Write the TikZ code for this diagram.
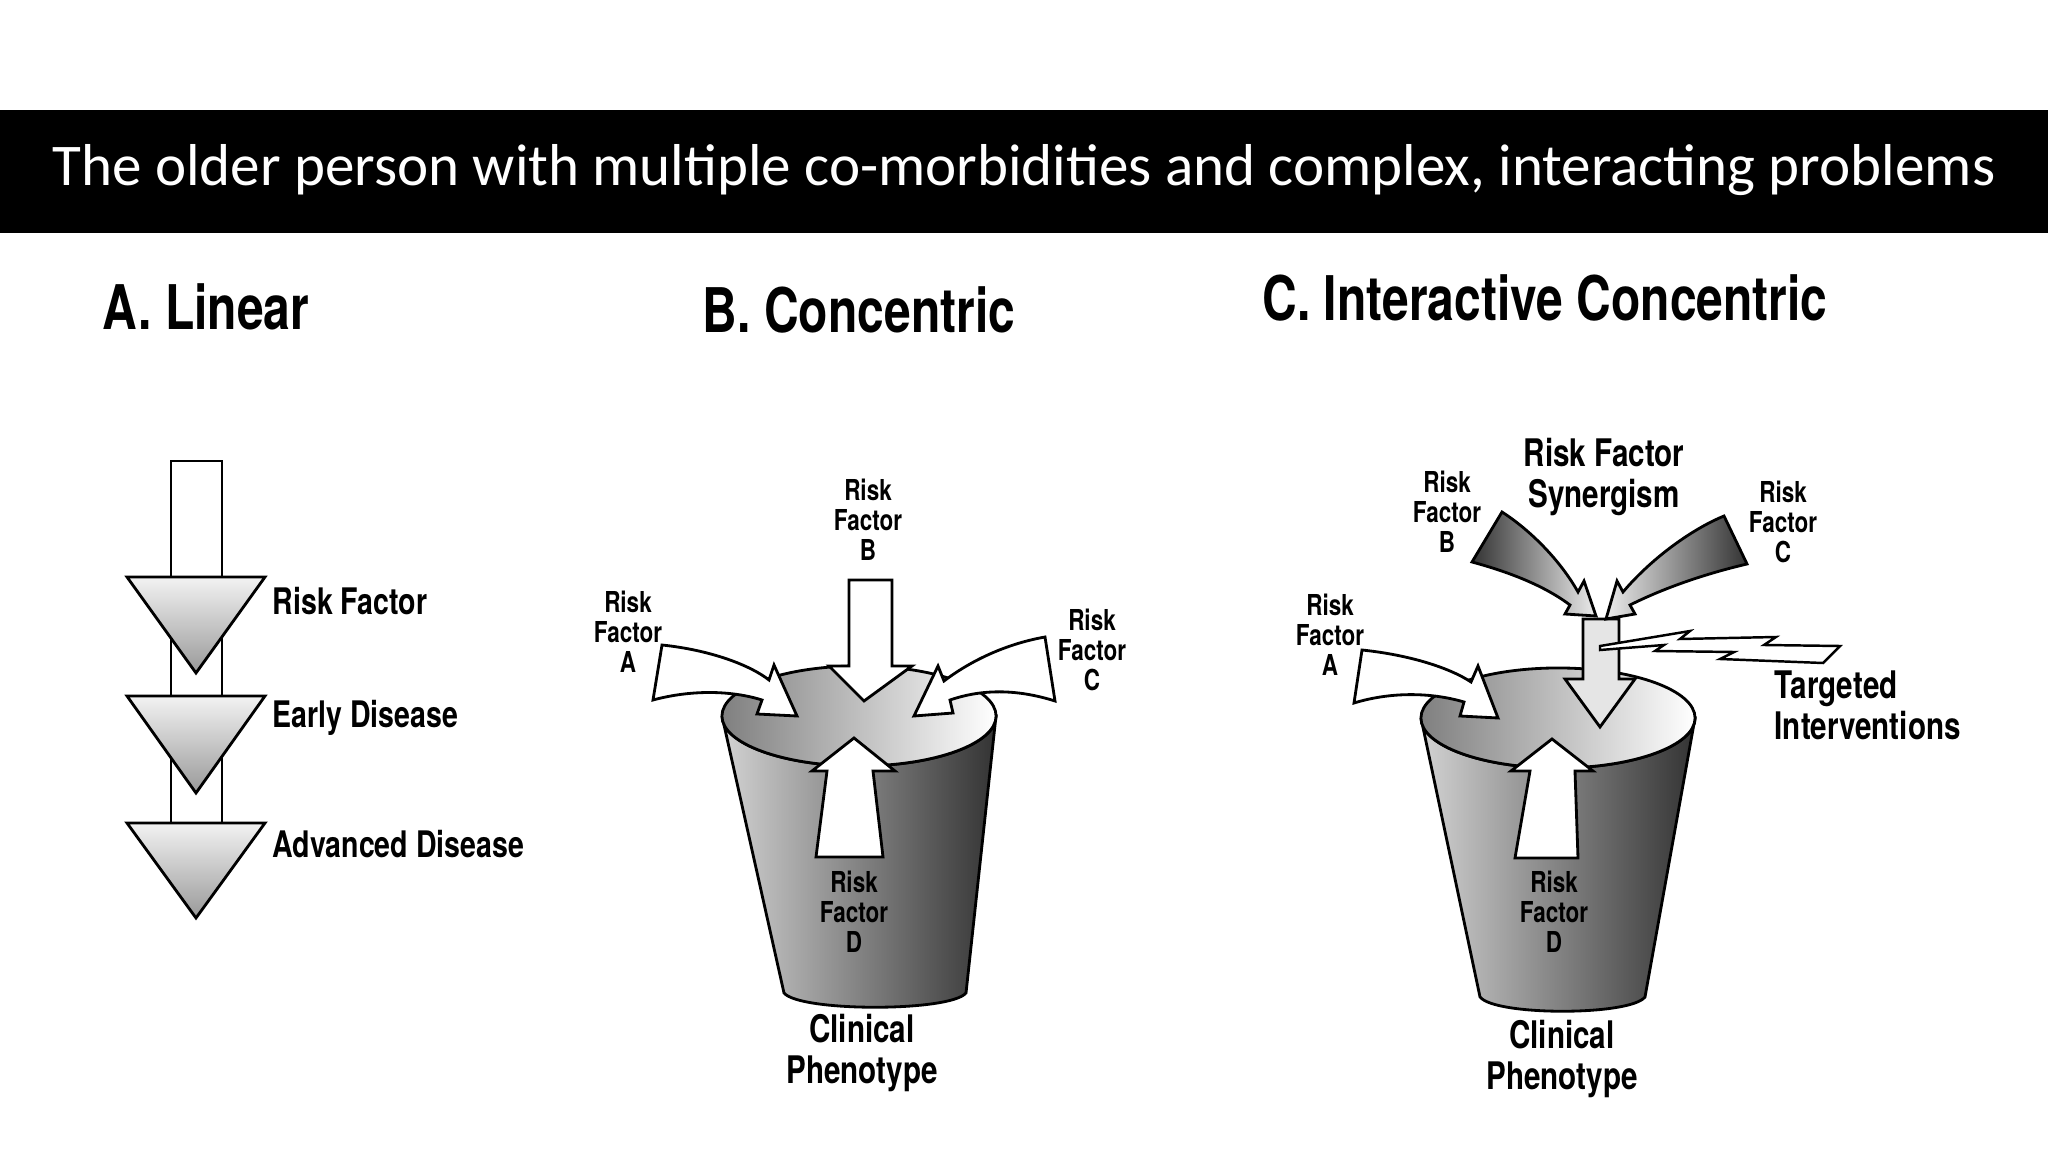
\documentclass[tikz,border=0pt]{standalone}
\usepackage{fontspec}
\setmainfont{Carlito}
\newfontfamily\cond[FakeStretch=0.78]{TeX Gyre Heros}
\begin{document}
\begin{tikzpicture}[x=0.01cm,y=-0.01cm,
  ol/.style={draw=black,line width=0.8pt,line join=miter},
  wa/.style={ol,fill=white},
  lbl/.style={font=\cond\bfseries\fontsize{8.2}{8.6}\selectfont,align=center,inner sep=0pt},
  big/.style={font=\cond\bfseries\fontsize{10.8}{11.6}\selectfont,align=center,inner sep=0pt},
  alb/.style={font=\cond\bfseries\fontsize{10.4}{12}\selectfont,anchor=west,inner sep=0pt},
  head/.style={font=\cond\bfseries\fontsize{17.5}{19}\selectfont,inner sep=0pt},
  ahead/.style={ol,top color=gray!10,bottom color=gray!80},
  cupbody/.style={ol,left color=gray!35,middle color=white,right color=black!80},
  cuprim/.style={ol,left color=black!50,middle color=gray!5,right color=white}]
\useasboundingbox (0,0) rectangle (2048,1152);
\fill[white] (0,0) rectangle (2048,1152);
% banner
\fill[black] (0,110) rectangle (2048,233);
\node[text=white,font=\fontsize{16.8}{19}\selectfont] (title) at (1024,170) {The older person with multiple co-morbidities and complex, interacting problems};
% headings
\node[head] (hA) at (206,307) {A. Linear};
\node[head] (hB) at (859,310) {B. Concentric};
\node[head] (hC) at (1545,298) {C. Interactive Concentric};
% ---------- Panel A
\draw[wa] (171,461) rectangle (222,823);
\path[ahead] (127,577) -- (265,577) -- (196,673) -- cycle;
\path[ahead] (127,696) -- (265,696) -- (196,793) -- cycle;
\path[ahead] (127,823) -- (265,823) -- (196,918) -- cycle;
\node[alb] (la1) at (272,601) {Risk Factor};
\node[alb] (la2) at (272,718) {Early Disease};
\node[alb] (la3) at (272,844) {Advanced Disease};
% ---------- Panel B cup
\shade[cupbody]
  (996,716) -- (966,993) .. controls (950,1012) and (800,1012) .. (784,993) -- (722,716)
  arc[start angle=180,end angle=360,x radius=1.37cm,y radius=0.5cm] -- cycle;
\shade[cuprim] (859,716) ellipse[x radius=1.37cm,y radius=0.5cm];
\path[wa] (816,857) -- (883,857) -- (873,771) -- (895,771) -- (854,738) -- (812,771) -- (827,771) -- cycle;
\path[wa] (662,645) .. controls (710,650) and (750,665) .. (769,680) -- (774,665) -- (797,716) -- (757,714) -- (762,700) .. controls (730,690) and (690,690) .. (653,700) -- cycle;
\path[wa] (1045,637) .. controls (1000,645) and (965,665) .. (944,681) -- (938,666) -- (914,716) -- (953,713) -- (950,700) .. controls (985,688) and (1020,690) .. (1055,701) -- cycle;
\path[wa] (849,580) -- (892,580) -- (892,666) -- (912,666) -- (864,701) -- (829,666) -- (849,666) -- cycle;
\node[lbl] (bA) at (628,632) {Risk\\Factor\\A};
\node[lbl] (bB) at (868,520) {Risk\\Factor\\B};
\node[lbl] (bC) at (1092,650) {Risk\\Factor\\C};
\node[lbl] (bD) at (854,912) {Risk\\Factor\\D};
\node[big] (bP) at (862,1053) {Clinical\\Phenotype};
% ---------- Panel C cup
\shade[cupbody]
  (1695,718) -- (1645,997) .. controls (1630,1016) and (1495,1016) .. (1480,997) -- (1421,718)
  arc[start angle=180,end angle=360,x radius=1.37cm,y radius=0.5cm] -- cycle;
\shade[cuprim] (1558,718) ellipse[x radius=1.37cm,y radius=0.5cm];
\path[wa] (1515,858) -- (1578,858) -- (1575,771) -- (1593,771) -- (1552,739) -- (1511,771) -- (1530,771) -- cycle;
\path[wa] (1362,650) .. controls (1410,655) and (1450,668) .. (1471,682) -- (1478,666) -- (1498,718) -- (1460,716) -- (1464,702) .. controls (1430,692) and (1390,692) .. (1354,703) -- cycle;
% synergism arrows
\path[ol,fill=gray!20] (1583,619) -- (1619,619) -- (1619,679) -- (1635,679) -- (1600,727) -- (1565,679) -- (1583,679) -- cycle;
\shade[ol,left color=black!80,right color=gray!15]
  (1472,562) .. controls (1520,575) and (1550,590) .. (1570,605) -- (1565,614) -- (1596,616) -- (1584,581) -- (1578,592) .. controls (1560,560) and (1530,530) .. (1502,512) -- cycle;
\shade[ol,left color=gray!15,right color=black!80]
  (1724,516) .. controls (1690,530) and (1650,560) .. (1623,592) -- (1617,581) -- (1606,619) -- (1635,614) -- (1630,605) .. controls (1660,590) and (1700,575) .. (1747,564) -- cycle;
% lightning
\path[ol,fill=white,line width=0.7pt] (1600,646) -- (1690,631) -- (1680,639) -- (1776,637) -- (1764,645) -- (1840,646) -- (1823,663) -- (1720,659) -- (1734,652) -- (1655,651) -- (1664,645) -- (1600,650) -- cycle;
\node[lbl] (cA) at (1330,635) {Risk\\Factor\\A};
\node[lbl] (cB) at (1447,512) {Risk\\Factor\\B};
\node[lbl] (cC) at (1783,522) {Risk\\Factor\\C};
\node[lbl] (cD) at (1554,912) {Risk\\Factor\\D};
\node[big] (cS) at (1604,477) {Risk Factor\\Synergism};
\node[big,align=left,anchor=west] (cT) at (1774,705) {Targeted\\Interventions};
\node[big] (cP) at (1562,1059) {Clinical\\Phenotype};
\end{tikzpicture}
\end{document}
